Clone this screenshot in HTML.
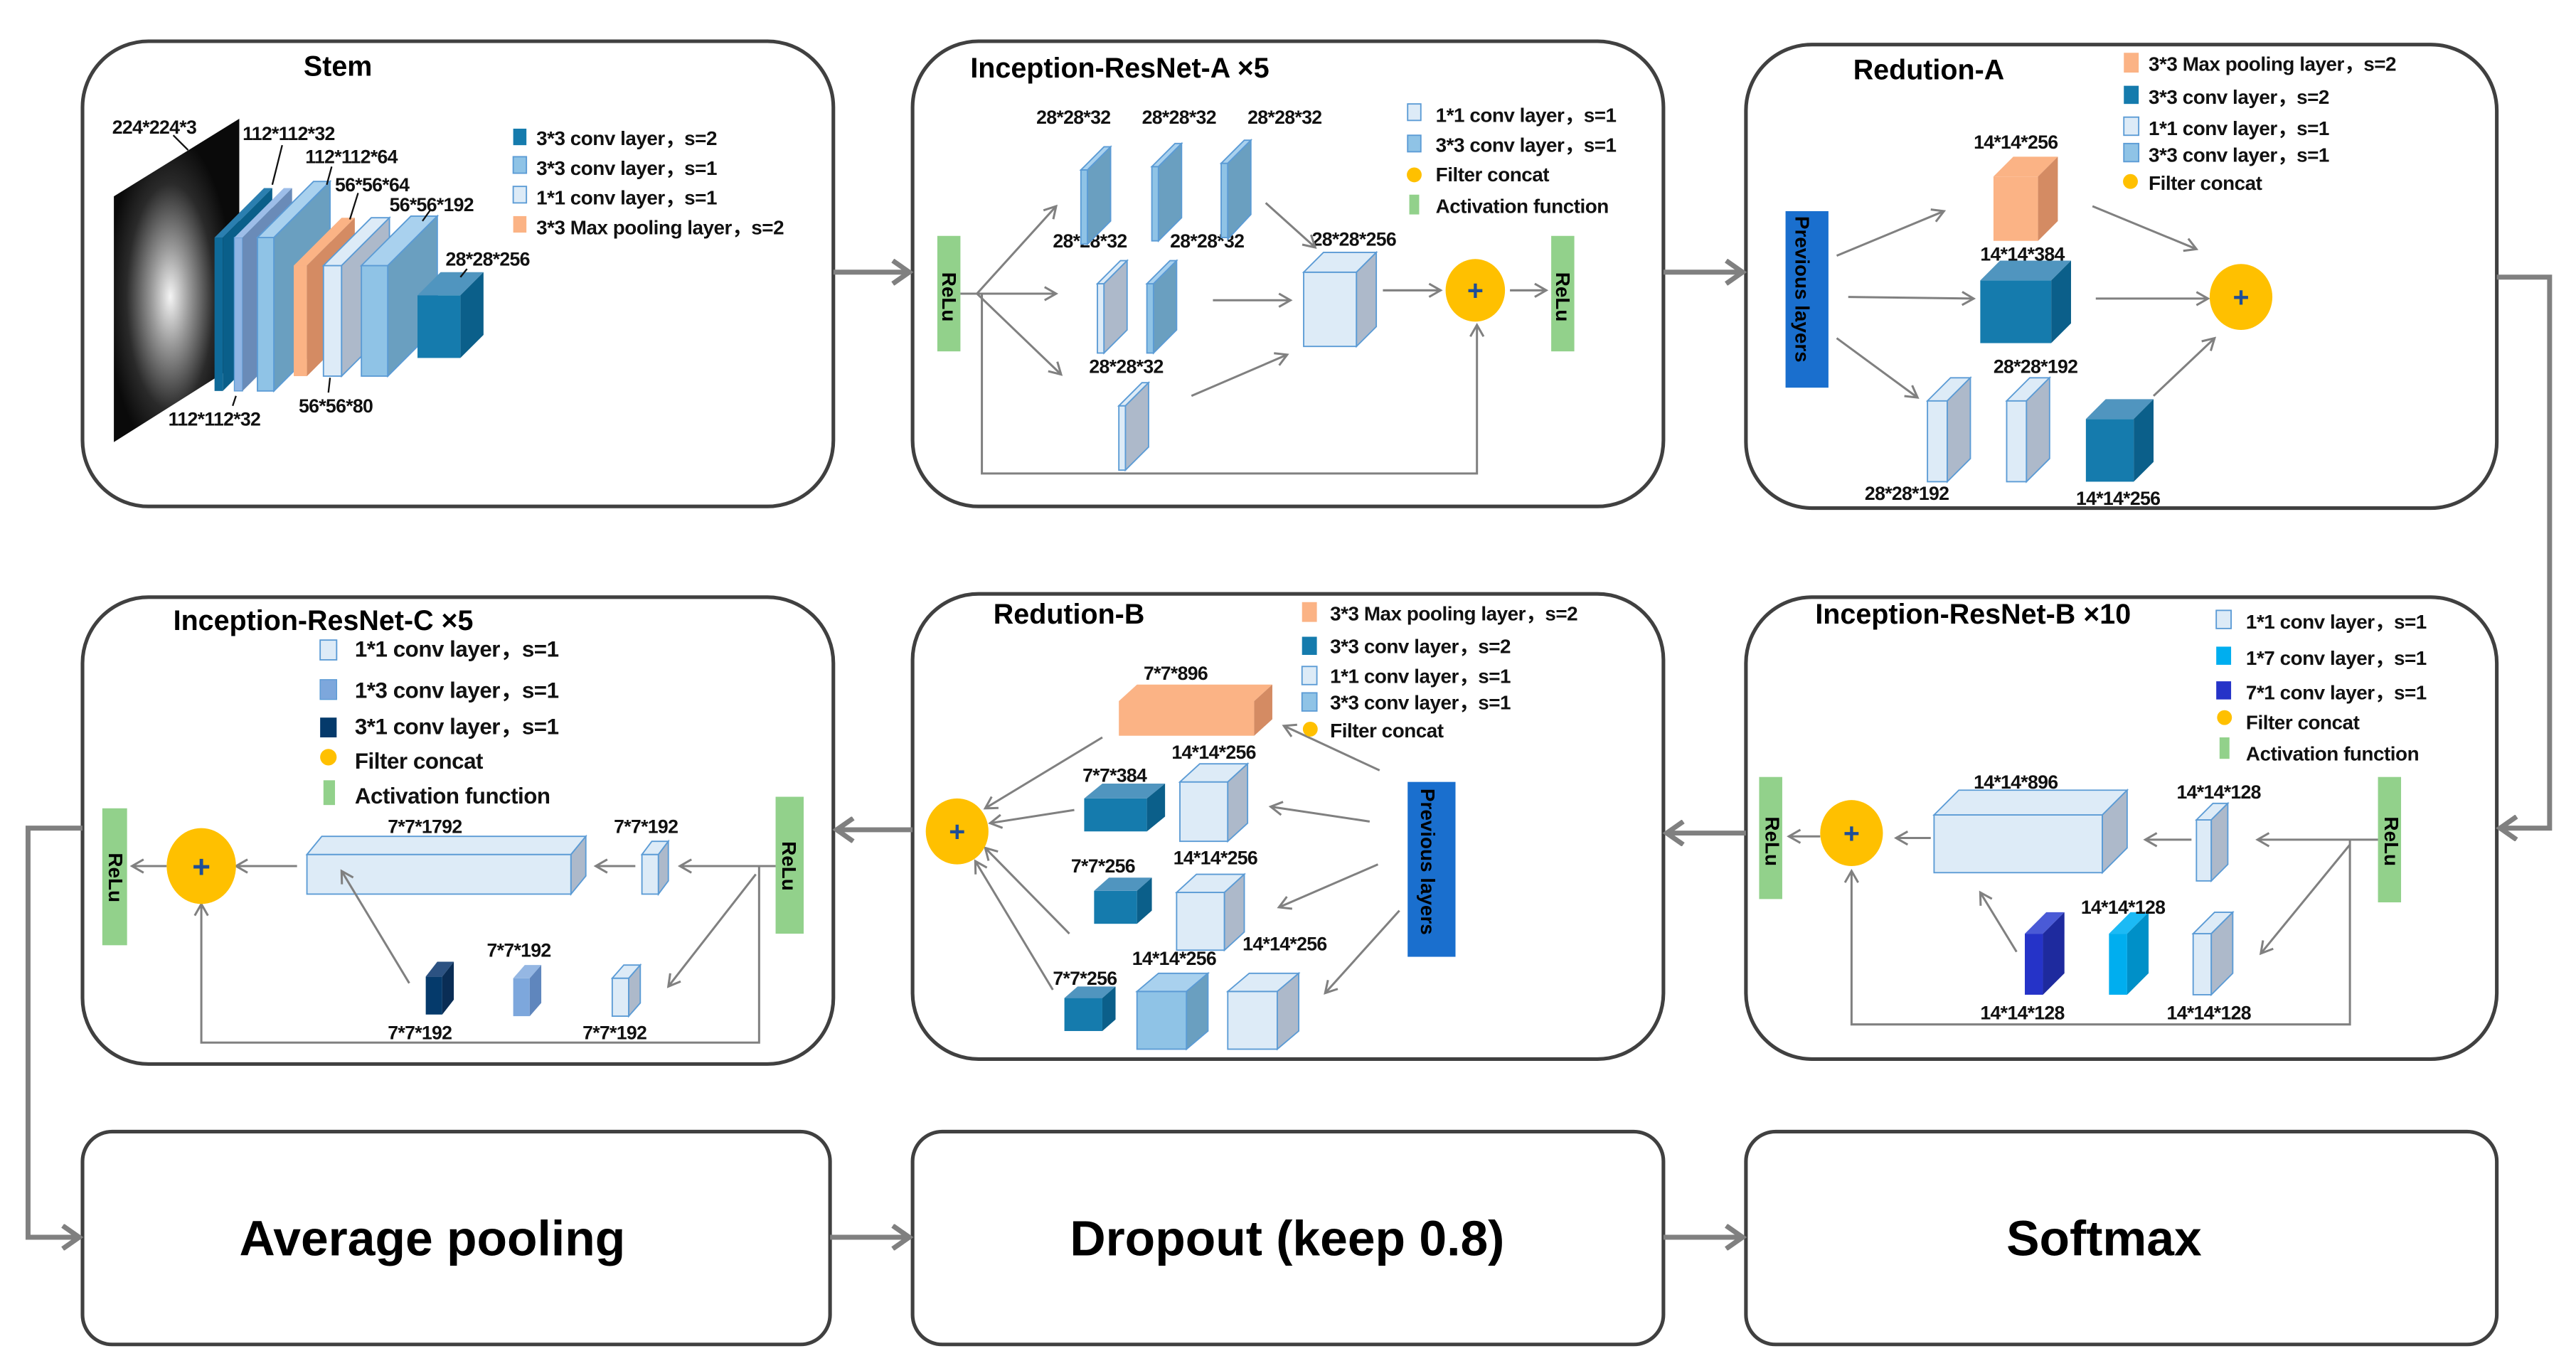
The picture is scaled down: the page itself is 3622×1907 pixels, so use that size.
<!DOCTYPE html>
<html><head><meta charset="utf-8"><style>
html,body{margin:0;padding:0;background:#fff}
svg{display:block}
.t{font-family:"Liberation Sans Narrow","Liberation Sans",sans-serif;font-weight:bold;font-size:11.5px;letter-spacing:-0.3px;fill:#111}
.lg{font-family:"Liberation Sans Narrow","Liberation Sans","Noto Sans CJK SC",sans-serif;font-weight:bold;font-size:12px;letter-spacing:-0.2px;fill:#111}
.ti{font-family:"Liberation Sans",sans-serif;font-weight:bold;font-size:17px;fill:#000}
.big{font-family:"Liberation Sans",sans-serif;font-weight:bold;font-size:30px;fill:#000}
.v{font-family:"Liberation Sans",sans-serif;font-weight:bold;font-size:12px;fill:#000}
.box{fill:#fff;stroke:#404040;stroke-width:2.2}
.th{stroke:#808080;stroke-width:3;fill:none}
.tn{stroke:#808080;stroke-width:1.3;fill:none}
.lt{fill:#ddebf7;stroke:#5b9bd5;stroke-width:.8}
.lts{fill:#adb9ca;stroke:#5b9bd5;stroke-width:.8}
.md{fill:#8fc3e6;stroke:#5b9bd5;stroke-width:.8}
.mds{fill:#6a9fc0;stroke:#5b9bd5;stroke-width:.8}
.mdt{fill:#a9d1ee;stroke:#5b9bd5;stroke-width:.8}
.tl{fill:#157bad}
.tlt{fill:#5095bf}
.tls{fill:#0b5f8a}
.or{fill:#fbb385}
.ors{fill:#d48b63}
.g{fill:#92d18b}
</style></head><body>
<svg width="3622" height="1907" viewBox="0 0 1561 822" preserveAspectRatio="none" xmlns="http://www.w3.org/2000/svg">
<defs>
<marker id="a" markerWidth="10" markerHeight="10" refX="8" refY="5" orient="auto" markerUnits="userSpaceOnUse"><path d="M1,1 L8,5 L1,9" fill="none" stroke="#808080" stroke-width="1.3"/></marker>
<marker id="b" markerWidth="16" markerHeight="16" refX="12" refY="8" orient="auto" markerUnits="userSpaceOnUse"><path d="M2,1 L12,8 L2,15" fill="none" stroke="#808080" stroke-width="3"/></marker>
<radialGradient id="img" cx="0.45" cy="0.55" r="0.5"><stop offset="0" stop-color="#f4f4f4"/><stop offset="0.3" stop-color="#9a9a9a"/><stop offset="0.7" stop-color="#2a2a2a"/><stop offset="1" stop-color="#0a0a0a"/></radialGradient>
</defs>

<rect class="box" x="50" y="25" width="455" height="282" rx="40"/>
<rect class="box" x="553" y="25" width="455" height="282" rx="40"/>
<rect class="box" x="1058" y="27" width="455" height="281" rx="40"/>
<rect class="box" x="50" y="362" width="455" height="283" rx="40"/>
<rect class="box" x="553" y="360" width="455" height="282" rx="40"/>
<rect class="box" x="1058" y="362" width="455" height="280" rx="40"/>
<rect class="box" x="50" y="686" width="453" height="129" rx="18"/>
<rect class="box" x="553" y="686" width="455" height="129" rx="18"/>
<rect class="box" x="1058" y="686" width="455" height="129" rx="18"/>

<line class="th" x1="505" y1="165" x2="551" y2="165" marker-end="url(#b)"/>
<line class="th" x1="1008" y1="165" x2="1056" y2="165" marker-end="url(#b)"/>
<polyline class="th" points="1513,168 1545,168 1545,502 1515,502" marker-end="url(#b)"/>
<line class="th" x1="1058" y1="505" x2="1010" y2="505" marker-end="url(#b)"/>
<line class="th" x1="553" y1="503" x2="507" y2="503" marker-end="url(#b)"/>
<polyline class="th" points="50,502 17,502 17,750 48,750" marker-end="url(#b)"/>
<line class="th" x1="503" y1="750" x2="551" y2="750" marker-end="url(#b)"/>
<line class="th" x1="1008" y1="750" x2="1056" y2="750" marker-end="url(#b)"/>

<text class="big" x="262" y="761" text-anchor="middle">Average pooling</text>
<text class="big" x="780" y="761" text-anchor="middle">Dropout (keep 0.8)</text>
<text class="big" x="1275" y="761" text-anchor="middle">Softmax</text>

<!-- STEM -->
<text class="ti" x="184" y="46">Stem</text>
<polygon points="69,119 145,72 145,220 69,268" fill="url(#img)"/>
<g>
<rect x="130" y="144" width="5" height="93" fill="#0f6a99"/><polygon points="130,144 160,114 165,114 135,144" fill="#2b7fb0"/><polygon points="135,144 165,114 165,207 135,237" fill="#0a5f8a"/>
<rect x="142" y="144" width="5" height="93" fill="#8fb4e3" stroke="#5b9bd5" stroke-width=".6"/><polygon points="142,144 172,114 177,114 147,144" fill="#9dbde8"/><polygon points="147,144 177,114 177,207 147,237" fill="#6a8bb8"/>
<rect x="156" y="144" width="10" height="93" class="md"/><polygon points="156,144 190,110 200,110 166,144" class="mdt"/><polygon points="166,144 200,110 200,203 166,237" class="mds"/>
<rect x="178" y="161" width="8" height="67" class="or"/><polygon points="178,161 207,132 215,132 186,161" class="or"/><polygon points="186,161 215,132 215,199 186,228" class="ors"/>
<rect x="196" y="161" width="11" height="67" class="lt"/><polygon points="196,161 225,132 236,132 207,161" class="lt"/><polygon points="207,161 236,132 236,199 207,228" class="lts"/>
<rect x="219" y="161" width="16" height="67" class="md"/><polygon points="219,161 249,131 265,131 235,161" class="mdt"/><polygon points="235,161 265,131 265,198 235,228" class="mds"/>
<rect x="253" y="179" width="26" height="38" class="tl"/><polygon points="253,179 267,165 293,165 279,179" class="tlt"/><polygon points="279,179 293,165 293,203 279,217" class="tls"/>
</g>
<g stroke="#111" stroke-width="1">
<line x1="105" y1="82" x2="114" y2="91"/><line x1="171" y1="88" x2="165" y2="112"/><line x1="201" y1="101" x2="198" y2="112"/>
<line x1="217" y1="117" x2="212" y2="133"/><line x1="261" y1="127" x2="256" y2="134"/><line x1="283" y1="163" x2="279" y2="168"/>
<line x1="143" y1="240" x2="141" y2="246"/><line x1="200" y1="229" x2="199" y2="238"/>
</g>
<text class="t" x="68" y="81">224*224*3</text>
<text class="t" x="147" y="85">112*112*32</text>
<text class="t" x="185" y="99">112*112*64</text>
<text class="t" x="203" y="116">56*56*64</text>
<text class="t" x="236" y="128">56*56*192</text>
<text class="t" x="270" y="161">28*28*256</text>
<text class="t" x="102" y="258">112*112*32</text>
<text class="t" x="181" y="250">56*56*80</text>
<rect x="311" y="78" width="8" height="10" class="tl"/>
<rect x="311" y="95" width="8" height="10" class="md"/>
<rect x="311" y="113" width="8" height="10" class="lt"/>
<rect x="311" y="131" width="8" height="10" class="or"/>
<text class="lg" x="325" y="88">3*3 conv layer，s=2</text>
<text class="lg" x="325" y="106">3*3 conv layer，s=1</text>
<text class="lg" x="325" y="124">1*1 conv layer，s=1</text>
<text class="lg" x="325" y="142">3*3 Max pooling layer，s=2</text>

<!-- IR-A -->
<text class="ti" x="588" y="47">Inception-ResNet-A  ×5</text>
<rect x="568" y="143" width="14" height="70" class="g"/>
<text class="v" transform="translate(571,165) rotate(90)">ReLu</text>
<rect x="940" y="143" width="14" height="70" class="g"/>
<text class="v" transform="translate(943,165) rotate(90)">ReLu</text>
<text class="t" x="628" y="75">28*28*32</text><text class="t" x="692" y="75">28*28*32</text><text class="t" x="756" y="75">28*28*32</text>
<text class="t" x="638" y="150">28*28*32</text><text class="t" x="709" y="150">28*28*32</text>
<text class="t" x="660" y="226">28*28*32</text>
<text class="t" x="795" y="149">28*28*256</text>
<g>
<rect x="655" y="103" width="4" height="45" class="md"/><polygon points="655,103 669,89 673,89 659,103" class="mdt"/><polygon points="659,103 673,89 673,134 659,148" class="mds"/>
<rect x="698" y="101" width="4" height="45" class="md"/><polygon points="698,101 712,87 716,87 702,101" class="mdt"/><polygon points="702,101 716,87 716,132 702,146" class="mds"/>
<rect x="740" y="99" width="4" height="45" class="md"/><polygon points="740,99 754,85 758,85 744,99" class="mdt"/><polygon points="744,99 758,85 758,130 744,145" class="mds"/>
<rect x="665" y="172" width="4" height="42" class="lt"/><polygon points="665,172 679,158 683,158 669,172" class="lt"/><polygon points="669,172 683,158 683,200 669,214" class="lts"/>
<rect x="695" y="172" width="4" height="42" class="md"/><polygon points="695,172 709,158 713,158 699,172" class="mdt"/><polygon points="699,172 713,158 713,200 699,214" class="mds"/>
<rect x="678" y="246" width="4" height="39" class="lt"/><polygon points="678,246 692,232 696,232 682,246" class="lt"/><polygon points="682,246 696,232 696,271 682,285" class="lts"/>
<rect x="790" y="165" width="32" height="45" class="lt"/><polygon points="790,165 802,153 834,153 822,165" class="lt"/><polygon points="822,165 834,153 834,198 822,210" class="lts"/>
</g>
<g class="tn">
<line x1="592" y1="178" x2="640" y2="125" marker-end="url(#a)"/>
<line x1="592" y1="178" x2="640" y2="178" marker-end="url(#a)"/>
<line x1="592" y1="178" x2="643" y2="227" marker-end="url(#a)"/>
<line x1="735" y1="182" x2="782" y2="182" marker-end="url(#a)"/>
<line x1="722" y1="240" x2="780" y2="215" marker-end="url(#a)"/>
<line x1="767" y1="123" x2="797" y2="150" marker-end="url(#a)"/>
<line x1="838" y1="176" x2="873" y2="176" marker-end="url(#a)"/>
<line x1="915" y1="176" x2="937" y2="176" marker-end="url(#a)"/>
<polyline points="582,178 595,178 595,287 895,287 895,197" marker-end="url(#a)"/>
</g>
<ellipse cx="894" cy="176" rx="18" ry="19" fill="#ffc000"/>
<text x="894" y="182" text-anchor="middle" font-family="Liberation Sans" font-weight="bold" font-size="17" fill="#1f4e96">+</text>
<rect x="853" y="63" width="8" height="10" class="lt"/>
<rect x="853" y="82" width="8" height="10" class="md"/>
<circle cx="857" cy="106" r="4.5" fill="#ffc000"/>
<rect x="854" y="118" width="6" height="12" class="g"/>
<text class="lg" x="870" y="74">1*1 conv layer，s=1</text>
<text class="lg" x="870" y="92">3*3 conv layer，s=1</text>
<text class="lg" x="870" y="110">Filter concat</text>
<text class="lg" x="870" y="129">Activation function</text>

<!-- Redution-A -->
<text class="ti" x="1123" y="48">Redution-A</text>
<rect x="1082" y="128" width="26" height="107" fill="#1a6fce"/>
<text class="v" transform="translate(1088,131) rotate(90)">Previous layers</text>
<rect x="1208" y="107" width="27" height="39" class="or"/><polygon points="1208,107 1220,95 1247,95 1235,107" class="or"/><polygon points="1235,107 1247,95 1247,134 1235,146" class="ors"/>
<rect x="1200" y="170" width="43" height="38" class="tl"/><polygon points="1200,170 1212,158 1255,158 1243,170" class="tlt"/><polygon points="1243,170 1255,158 1255,196 1243,208" class="tls"/>
<rect x="1168" y="243" width="12" height="49" class="lt"/><polygon points="1168,243 1182,229 1194,229 1180,243" class="lt"/><polygon points="1180,243 1194,229 1194,278 1180,292" class="lts"/>
<rect x="1216" y="243" width="12" height="49" class="lt"/><polygon points="1216,243 1230,229 1242,229 1228,243" class="lt"/><polygon points="1228,243 1242,229 1242,278 1228,292" class="lts"/>
<rect x="1264" y="254" width="29" height="38" class="tl"/><polygon points="1264,254 1276,242 1305,242 1293,254" class="tlt"/><polygon points="1293,254 1305,242 1305,280 1293,292" class="tls"/>
<text class="t" x="1196" y="90">14*14*256</text>
<text class="t" x="1200" y="158">14*14*384</text>
<text class="t" x="1208" y="226">28*28*192</text>
<text class="t" x="1130" y="303">28*28*192</text>
<text class="t" x="1258" y="306">14*14*256</text>
<g class="tn">
<line x1="1113" y1="155" x2="1178" y2="128" marker-end="url(#a)"/>
<line x1="1120" y1="180" x2="1196" y2="181" marker-end="url(#a)"/>
<line x1="1113" y1="205" x2="1162" y2="241" marker-end="url(#a)"/>
<line x1="1268" y1="125" x2="1331" y2="151" marker-end="url(#a)"/>
<line x1="1270" y1="181" x2="1338" y2="181" marker-end="url(#a)"/>
<line x1="1305" y1="240" x2="1342" y2="205" marker-end="url(#a)"/>
</g>
<ellipse cx="1358" cy="180" rx="19" ry="20" fill="#ffc000"/>
<text x="1358" y="186" text-anchor="middle" font-family="Liberation Sans" font-weight="bold" font-size="17" fill="#1f4e96">+</text>
<rect x="1287" y="32" width="9" height="12" class="or"/>
<rect x="1287" y="52" width="9" height="11" class="tl"/>
<rect x="1287" y="71" width="9" height="11" class="lt"/>
<rect x="1287" y="87" width="9" height="11" class="md"/>
<circle cx="1291" cy="110" r="4.5" fill="#ffc000"/>
<text class="lg" x="1302" y="43">3*3 Max pooling layer，s=2</text>
<text class="lg" x="1302" y="63">3*3 conv layer，s=2</text>
<text class="lg" x="1302" y="82">1*1 conv layer，s=1</text>
<text class="lg" x="1302" y="98">3*3 conv layer，s=1</text>
<text class="lg" x="1302" y="115">Filter concat</text>

<!-- IR-B -->
<text class="ti" x="1100" y="378">Inception-ResNet-B  ×10</text>
<rect x="1066" y="471" width="14" height="74" class="g"/>
<text class="v" transform="translate(1070,495) rotate(90)">ReLu</text>
<rect x="1441" y="471" width="14" height="76" class="g"/>
<text class="v" transform="translate(1445,495) rotate(90)">ReLu</text>
<rect x="1172" y="494" width="102" height="35" class="lt"/><polygon points="1172,494 1187,479 1289,479 1274,494" class="lt"/><polygon points="1274,494 1289,479 1289,514 1274,529" class="lts"/>
<rect x="1331" y="497" width="9" height="37" class="lt"/><polygon points="1331,497 1341,487 1350,487 1340,497" class="lt"/><polygon points="1340,497 1350,487 1350,524 1340,534" class="lts"/>
<rect x="1227" y="566" width="11" height="37" fill="#2533c8"/><polygon points="1227,566 1240,553 1251,553 1238,566" fill="#4a5ad6"/><polygon points="1238,566 1251,553 1251,590 1238,603" fill="#1e2a9e"/>
<rect x="1278" y="566" width="11" height="37" fill="#00aeef"/><polygon points="1278,566 1291,553 1302,553 1289,566" fill="#1cbaf5"/><polygon points="1289,566 1302,553 1302,590 1289,603" fill="#0090c8"/>
<rect x="1329" y="566" width="11" height="37" class="lt"/><polygon points="1329,566 1342,553 1353,553 1340,566" class="lt"/><polygon points="1340,566 1353,553 1353,590 1340,603" class="lts"/>
<text class="t" x="1196" y="478">14*14*896</text>
<text class="t" x="1319" y="484">14*14*128</text>
<text class="t" x="1261" y="554">14*14*128</text>
<text class="t" x="1200" y="618">14*14*128</text>
<text class="t" x="1313" y="618">14*14*128</text>
<g class="tn">
<line x1="1441" y1="509" x2="1368" y2="509" marker-end="url(#a)"/>
<polyline points="1424,509 1424,621 1122,621 1122,528" marker-end="url(#a)"/>
<line x1="1424" y1="512" x2="1370" y2="578" marker-end="url(#a)"/>
<line x1="1328" y1="509" x2="1300" y2="509" marker-end="url(#a)"/>
<line x1="1170" y1="508" x2="1149" y2="508" marker-end="url(#a)"/>
<line x1="1103" y1="507" x2="1084" y2="507" marker-end="url(#a)"/>
<line x1="1222" y1="577" x2="1200" y2="541" marker-end="url(#a)"/>
</g>
<ellipse cx="1122" cy="505" rx="19" ry="20" fill="#ffc000"/>
<text x="1122" y="511" text-anchor="middle" font-family="Liberation Sans" font-weight="bold" font-size="17" fill="#1f4e96">+</text>
<rect x="1343" y="370" width="9" height="11" class="lt"/>
<rect x="1343" y="392" width="9" height="11" fill="#00aeef"/>
<rect x="1343" y="413" width="9" height="11" fill="#2533c8"/>
<circle cx="1348" cy="435" r="4.5" fill="#ffc000"/>
<rect x="1345" y="447" width="6" height="13" class="g"/>
<text class="lg" x="1361" y="381">1*1 conv layer，s=1</text>
<text class="lg" x="1361" y="403">1*7 conv layer，s=1</text>
<text class="lg" x="1361" y="424">7*1 conv layer，s=1</text>
<text class="lg" x="1361" y="442">Filter concat</text>
<text class="lg" x="1361" y="461">Activation function</text>

<!-- Redution-B -->
<text class="ti" x="602" y="378">Redution-B</text>
<rect x="853" y="474" width="29" height="106" fill="#1a6fce"/>
<text class="v" transform="translate(861,478) rotate(90)">Previous layers</text>
<rect x="678" y="425" width="82" height="21" class="or"/><polygon points="678,425 689,415 771,415 760,425" class="or"/><polygon points="760,425 771,415 771,436 760,446" class="ors"/>
<rect x="715" y="474" width="29" height="36" class="lt"/><polygon points="715,474 727,463 756,463 744,474" class="lt"/><polygon points="744,474 756,463 756,499 744,510" class="lts"/>
<rect x="657" y="484" width="38" height="20" class="tl"/><polygon points="657,484 668,475 706,475 695,484" class="tlt"/><polygon points="695,484 706,475 706,495 695,504" class="tls"/>
<rect x="663" y="540" width="26" height="20" class="tl"/><polygon points="663,540 672,532 698,532 689,540" class="tlt"/><polygon points="689,540 698,532 698,552 689,560" class="tls"/>
<rect x="713" y="541" width="29" height="35" class="lt"/><polygon points="713,541 725,530 754,530 742,541" class="lt"/><polygon points="742,541 754,530 754,565 742,576" class="lts"/>
<rect x="689" y="601" width="30" height="35" class="md"/><polygon points="689,601 702,590 732,590 719,601" class="mdt"/><polygon points="719,601 732,590 732,625 719,636" class="mds"/>
<rect x="744" y="601" width="30" height="35" class="lt"/><polygon points="744,601 757,590 787,590 774,601" class="lt"/><polygon points="774,601 787,590 787,625 774,636" class="lts"/>
<rect x="645" y="605" width="23" height="20" class="tl"/><polygon points="645,605 653,598 676,598 668,605" class="tlt"/><polygon points="668,605 676,598 676,618 668,625" class="tls"/>
<text class="t" x="693" y="412">7*7*896</text>
<text class="t" x="710" y="460">14*14*256</text>
<text class="t" x="656" y="474">7*7*384</text>
<text class="t" x="649" y="529">7*7*256</text>
<text class="t" x="711" y="524">14*14*256</text>
<text class="t" x="686" y="585">14*14*256</text>
<text class="t" x="753" y="576">14*14*256</text>
<text class="t" x="638" y="597">7*7*256</text>
<g class="tn">
<line x1="836" y1="467" x2="778" y2="440" marker-end="url(#a)"/>
<line x1="830" y1="498" x2="770" y2="489" marker-end="url(#a)"/>
<line x1="835" y1="524" x2="775" y2="550" marker-end="url(#a)"/>
<line x1="848" y1="552" x2="803" y2="602" marker-end="url(#a)"/>
<line x1="651" y1="491" x2="600" y2="499" marker-end="url(#a)"/>
<line x1="668" y1="447" x2="597" y2="490" marker-end="url(#a)"/>
<line x1="648" y1="566" x2="597" y2="514" marker-end="url(#a)"/>
<line x1="638" y1="600" x2="591" y2="522" marker-end="url(#a)"/>
</g>
<ellipse cx="580" cy="504" rx="19" ry="20" fill="#ffc000"/>
<text x="580" y="510" text-anchor="middle" font-family="Liberation Sans" font-weight="bold" font-size="17" fill="#1f4e96">+</text>
<rect x="789" y="365" width="9" height="12" class="or"/>
<rect x="789" y="386" width="9" height="11" class="tl"/>
<rect x="789" y="404" width="9" height="11" class="lt"/>
<rect x="789" y="420" width="9" height="11" class="md"/>
<circle cx="794" cy="442" r="4.5" fill="#ffc000"/>
<text class="lg" x="806" y="376">3*3 Max pooling layer，s=2</text>
<text class="lg" x="806" y="396">3*3 conv layer，s=2</text>
<text class="lg" x="806" y="414">1*1 conv layer，s=1</text>
<text class="lg" x="806" y="430">3*3 conv layer，s=1</text>
<text class="lg" x="806" y="447">Filter concat</text>

<!-- IR-C -->
<text class="ti" x="105" y="382">Inception-ResNet-C  ×5</text>
<rect x="62" y="490" width="15" height="83" class="g"/>
<text class="v" transform="translate(66,517) rotate(90)">ReLu</text>
<rect x="470" y="483" width="17" height="83" class="g"/>
<text class="v" transform="translate(474,510) rotate(90)">ReLu</text>
<rect x="186" y="518" width="160" height="24" class="lt"/><polygon points="186,518 195,507 355,507 346,518" class="lt"/><polygon points="346,518 355,507 355,531 346,542" class="lts"/>
<rect x="389" y="518" width="10" height="24" class="lt"/><polygon points="389,518 395,510 405,510 399,518" class="lt"/><polygon points="399,518 405,510 405,534 399,542" class="lts"/>
<rect x="258" y="592" width="10" height="23" fill="#053a6b"/><polygon points="258,592 265,583 275,583 268,592" fill="#2c5282"/><polygon points="268,592 275,583 275,606 268,615" fill="#0a2d55"/>
<rect x="311" y="593" width="10" height="23" fill="#7da7dc"/><polygon points="311,593 318,585 328,585 321,593" fill="#95b7e3"/><polygon points="321,593 328,585 328,608 321,616" fill="#5f86bd"/>
<rect x="371" y="593" width="10" height="23" class="lt"/><polygon points="371,593 378,585 388,585 381,593" class="lt"/><polygon points="381,593 388,585 388,608 381,616" class="lts"/>
<text class="t" x="235" y="505">7*7*1792</text>
<text class="t" x="372" y="505">7*7*192</text>
<text class="t" x="295" y="580">7*7*192</text>
<text class="t" x="235" y="630">7*7*192</text>
<text class="t" x="353" y="630">7*7*192</text>
<g class="tn">
<line x1="470" y1="525" x2="412" y2="525" marker-end="url(#a)"/>
<polyline points="460,525 460,632 122,632 122,548" marker-end="url(#a)"/>
<line x1="458" y1="530" x2="405" y2="598" marker-end="url(#a)"/>
<line x1="385" y1="525" x2="361" y2="525" marker-end="url(#a)"/>
<line x1="180" y1="525" x2="143" y2="525" marker-end="url(#a)"/>
<line x1="101" y1="525" x2="80" y2="525" marker-end="url(#a)"/>
<line x1="248" y1="596" x2="207" y2="528" marker-end="url(#a)"/>
</g>
<ellipse cx="122" cy="525" rx="21" ry="23" fill="#ffc000"/>
<text x="122" y="532" text-anchor="middle" font-family="Liberation Sans" font-weight="bold" font-size="19" fill="#1f4e96">+</text>
<rect x="194" y="388" width="10" height="12" class="lt"/>
<rect x="194" y="412" width="10" height="12" fill="#7da7dc" stroke="#5b9bd5" stroke-width=".6"/>
<rect x="194" y="435" width="10" height="12" fill="#053a6b"/>
<circle cx="199" cy="459" r="5" fill="#ffc000"/>
<rect x="196" y="473" width="7" height="15" class="g"/>
<text class="lg" x="215" y="398" style="font-size:13.5px">1*1 conv layer，s=1</text>
<text class="lg" x="215" y="423" style="font-size:13.5px">1*3 conv layer，s=1</text>
<text class="lg" x="215" y="445" style="font-size:13.5px">3*1 conv layer，s=1</text>
<text class="lg" x="215" y="466" style="font-size:13.5px">Filter concat</text>
<text class="lg" x="215" y="487" style="font-size:13.5px">Activation function</text>
</svg>
</body></html>
